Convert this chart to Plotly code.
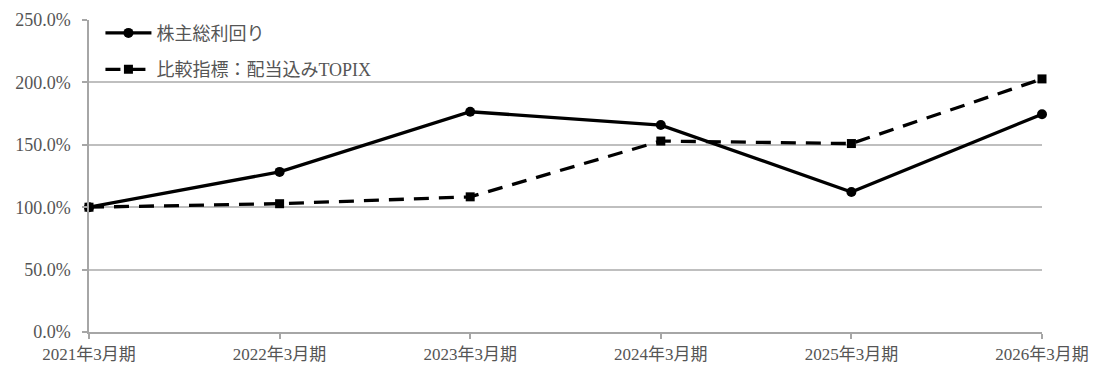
import plotly.graph_objects as go

categories = ["2021年3月期", "2022年3月期", "2023年3月期", "2024年3月期", "2025年3月期", "2026年3月期"]
tsr = [100.0, 128.3, 176.5, 165.8, 112.2, 174.5]
topix = [100.0, 102.8, 108.3, 153.0, 151.0, 202.8]
y_ticks = [0, 50, 100, 150, 200, 250]
y_tick_labels = ["0.0%", "50.0%", "100.0%", "150.0%", "200.0%", "250.0%"]

font_family = "Liberation Serif, DejaVu Serif, Noto Sans CJK JP"

fig = go.Figure()
fig.add_trace(go.Scatter(
    x=categories, y=tsr, name="株主総利回り", mode="lines+markers",
    line=dict(color="black", width=3.3), marker=dict(symbol="circle", size=10, color="black"),
    cliponaxis=False, legendgroup="a"))
fig.add_trace(go.Scatter(
    x=categories, y=topix, name="比較指標：配当込みTOPIX", mode="lines+markers",
    line=dict(color="black", width=3.3, dash="15px,10px"),
    marker=dict(symbol="square", size=9, color="black"),
    cliponaxis=False, legendgroup="b"))

fig.update_layout(
    width=1099, height=367,
    margin=dict(l=89, r=57, t=20, b=35, autoexpand=False),
    plot_bgcolor="white", paper_bgcolor="white",
    font=dict(family=font_family, size=18, color="#555555"),
    showlegend=True,
    legend=dict(x=0.012, y=1.017, xanchor="left", yanchor="top",
                bgcolor="rgba(0,0,0,0)", tracegroupgap=10,
                font=dict(family=font_family, size=18, color="#555555"),
                itemwidth=46),
    xaxis=dict(type="category", range=[0, 5], showgrid=False, automargin=False,
               showline=True, linecolor="#a6a6a6", linewidth=1.5,
               ticks="outside", ticklen=5, tickcolor="#a6a6a6", tickwidth=1.5,
               ticklabelstandoff=1,
               tickfont=dict(size=17, color="#555555")),
    yaxis=dict(range=[0, 250], tickvals=y_ticks, ticktext=y_tick_labels, automargin=False,
               showgrid=True, gridcolor="#bfbfbf", gridwidth=1.5,
               showline=True, linecolor="#a6a6a6", linewidth=1.5,
               ticks="outside", ticklen=5, tickcolor="#a6a6a6", tickwidth=1.5,
               ticklabelstandoff=8,
               zeroline=False, tickfont=dict(size=18, color="#555555")),
)

fig.write_html("out.html")
